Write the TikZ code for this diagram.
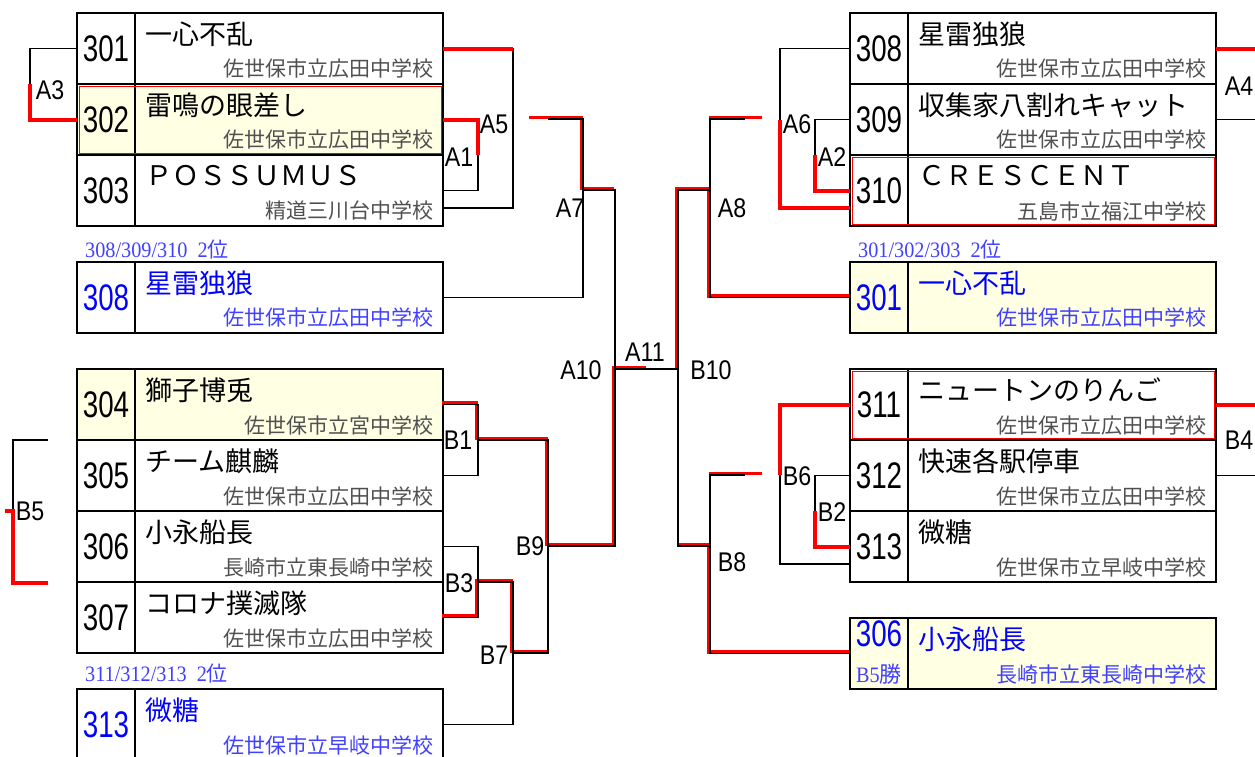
\documentclass[tikz,border=0pt]{standalone}
\usepackage{fontspec}
\setmainfont{Liberation Sans}
\newfontfamily\jpfont{Noto Sans CJK JP}
\newfontfamily\numfont[FakeStretch=0.75]{Liberation Sans}
\newfontfamily\lblfont[FakeStretch=0.86]{Liberation Sans}
\newfontfamily\serfont[FakeStretch=0.92]{Liberation Serif}
\usepackage{tikz}

\definecolor{cream}{RGB}{255,255,228}
\definecolor{schoolgray}{RGB}{80,80,80}
\definecolor{seedblue}{RGB}{0,0,255}
\definecolor{noteblue}{RGB}{64,64,255}

\begin{document}
\begin{tikzpicture}[x=1pt,y=-1pt,
        numcell/.style={draw,line width=2pt,anchor=north west,outer sep=0pt,inner sep=0pt,minimum width=58pt,minimum height=71pt,font=\numfont\fontsize{37}{37}\selectfont},
        namecell/.style={draw,line width=2pt,anchor=north west,outer sep=0pt,inner sep=0pt,minimum width=308pt,minimum height=71pt},
        won/.style={fill=cream},
        seedtext/.style={text=seedblue},
        teamname/.style={anchor=west,inner sep=0pt,font=\jpfont\fontsize{27}{27}\selectfont},
        school/.style={anchor=east,inner sep=0pt,text=schoolgray,font=\jpfont\fontsize{21}{21}\selectfont},
        seednote/.style={anchor=west,inner sep=0pt,text=noteblue,font=\serfont\fontsize{22}{22}\selectfont},
        match/.style={inner sep=0pt,font=\lblfont\fontsize{27}{27}\selectfont},
        bracket/.style={line width=1.6pt},
        win/.style={draw=red,line width=4pt},
        winb/.style={draw=red,line width=3.5pt,transform canvas={shift={(-1.3pt,1.3pt)}}},
        rowmark/.style={draw=red,line width=1pt}]
        \useasboundingbox (0,0) rectangle (1255,756);

        % group A, left
        \node[numcell] (n301) at (77,13) {301};
        \node[namecell] (c301) at (135,13) {};
        \node[teamname] (t301) at ([xshift=10pt,yshift=-21pt]c301.north west) {一心不乱};
        \node[school] (s301) at ([xshift=-9pt,yshift=15pt]c301.south east) {佐世保市立広田中学校};
        \node[numcell,won] (n302) at (77,84) {302};
        \node[namecell,won] (c302) at (135,84) {};
        \node[teamname] (t302) at ([xshift=10pt,yshift=-21pt]c302.north west) {雷鳴の眼差し};
        \node[school] (s302) at ([xshift=-9pt,yshift=15pt]c302.south east) {佐世保市立広田中学校};
        \node[numcell] (n303) at (77,155) {303};
        \node[namecell] (c303) at (135,155) {};
        \node[teamname] (t303) at ([xshift=10pt,yshift=-21pt]c303.north west) {ＰＯＳＳＵＭＵＳ};
        \node[school] (s303) at ([xshift=-9pt,yshift=15pt]c303.south east) {精道三川台中学校};
        \draw[rowmark] ([xshift=2pt,yshift=-2pt]n302.north west) rectangle ([xshift=-2pt,yshift=2pt]c302.south east);

        \node[seednote] (note308) at (85,250) {308/309/310\hspace{10pt}2{\jpfont\fontsize{21}{21}\selectfont 位}};
        \node[numcell,seedtext] (n308s) at (77,262) {308};
        \node[namecell] (c308s) at (135,262) {};
        \node[teamname,seedtext] (t308s) at ([xshift=10pt,yshift=-21pt]c308s.north west) {星雷独狼};
        \node[school,text=noteblue] (s308s) at ([xshift=-9pt,yshift=15pt]c308s.south east) {佐世保市立広田中学校};

        % group B, left
        \node[numcell,won] (n304) at (77,369) {304};
        \node[namecell,won] (c304) at (135,369) {};
        \node[teamname] (t304) at ([xshift=10pt,yshift=-21pt]c304.north west) {獅子博兎};
        \node[school] (s304) at ([xshift=-9pt,yshift=15pt]c304.south east) {佐世保市立宮中学校};
        \node[numcell] (n305) at (77,440) {305};
        \node[namecell] (c305) at (135,440) {};
        \node[teamname] (t305) at ([xshift=10pt,yshift=-21pt]c305.north west) {チーム麒麟};
        \node[school] (s305) at ([xshift=-9pt,yshift=15pt]c305.south east) {佐世保市立広田中学校};
        \node[numcell] (n306) at (77,511) {306};
        \node[namecell] (c306) at (135,511) {};
        \node[teamname] (t306) at ([xshift=10pt,yshift=-21pt]c306.north west) {小永船長};
        \node[school] (s306) at ([xshift=-9pt,yshift=15pt]c306.south east) {長崎市立東長崎中学校};
        \node[numcell] (n307) at (77,582) {307};
        \node[namecell] (c307) at (135,582) {};
        \node[teamname] (t307) at ([xshift=10pt,yshift=-21pt]c307.north west) {コロナ撲滅隊};
        \node[school] (s307) at ([xshift=-9pt,yshift=15pt]c307.south east) {佐世保市立広田中学校};

        \node[seednote] (note313) at (85,674) {311/312/313\hspace{10pt}2{\jpfont\fontsize{21}{21}\selectfont 位}};
        \node[numcell,seedtext] (n313s) at (77,689) {313};
        \node[namecell] (c313s) at (135,689) {};
        \node[teamname,seedtext] (t313s) at ([xshift=10pt,yshift=-21pt]c313s.north west) {微糖};
        \node[school,text=noteblue] (s313s) at ([xshift=-9pt,yshift=15pt]c313s.south east) {佐世保市立早岐中学校};

        % group A, right
        \node[numcell] (n308) at (850,13) {308};
        \node[namecell] (c308) at (908,13) {};
        \node[teamname] (t308) at ([xshift=10pt,yshift=-21pt]c308.north west) {星雷独狼};
        \node[school] (s308) at ([xshift=-9pt,yshift=15pt]c308.south east) {佐世保市立広田中学校};
        \node[numcell] (n309) at (850,84) {309};
        \node[namecell] (c309) at (908,84) {};
        \node[teamname] (t309) at ([xshift=10pt,yshift=-21pt]c309.north west) {収集家八割れキャット};
        \node[school] (s309) at ([xshift=-9pt,yshift=15pt]c309.south east) {佐世保市立広田中学校};
        \node[numcell] (n310) at (850,155) {310};
        \node[namecell] (c310) at (908,155) {};
        \node[teamname] (t310) at ([xshift=10pt,yshift=-21pt]c310.north west) {ＣＲＥＳＣＥＮＴ};
        \node[school] (s310) at ([xshift=-9pt,yshift=15pt]c310.south east) {五島市立福江中学校};
        \draw[rowmark] ([xshift=2pt,yshift=-2pt]n310.north west) rectangle ([xshift=-2pt,yshift=2pt]c310.south east);

        \node[seednote] (note301) at (858,250) {301/302/303\hspace{10pt}2{\jpfont\fontsize{21}{21}\selectfont 位}};
        \node[numcell,won,seedtext] (n301s) at (850,262) {301};
        \node[namecell,won] (c301s) at (908,262) {};
        \node[teamname,seedtext] (t301s) at ([xshift=10pt,yshift=-21pt]c301s.north west) {一心不乱};
        \node[school,text=noteblue] (s301s) at ([xshift=-9pt,yshift=15pt]c301s.south east) {佐世保市立広田中学校};

        % group B, right
        \node[numcell] (n311) at (850,369) {311};
        \node[namecell] (c311) at (908,369) {};
        \node[teamname] (t311) at ([xshift=10pt,yshift=-21pt]c311.north west) {ニュートンのりんご};
        \node[school] (s311) at ([xshift=-9pt,yshift=15pt]c311.south east) {佐世保市立広田中学校};
        \node[numcell] (n312) at (850,440) {312};
        \node[namecell] (c312) at (908,440) {};
        \node[teamname] (t312) at ([xshift=10pt,yshift=-21pt]c312.north west) {快速各駅停車};
        \node[school] (s312) at ([xshift=-9pt,yshift=15pt]c312.south east) {佐世保市立広田中学校};
        \node[numcell] (n313) at (850,511) {313};
        \node[namecell] (c313) at (908,511) {};
        \node[teamname] (t313) at ([xshift=10pt,yshift=-21pt]c313.north west) {微糖};
        \node[school] (s313) at ([xshift=-9pt,yshift=15pt]c313.south east) {佐世保市立早岐中学校};
        \draw[rowmark] ([xshift=2pt,yshift=-2pt]n311.north west) rectangle ([xshift=-2pt,yshift=2pt]c311.south east);

        \node[numcell,won] (n306s) at (850,618) {};
        \node[namecell,won] (c306s) at (908,618) {};
        \node[seedtext,inner sep=0pt,font=\numfont\fontsize{37}{37}\selectfont] (k306s) at ([yshift=20pt]n306s.center) {306};
        \node[text=noteblue,inner sep=0pt,font=\serfont\fontsize{22}{22}\selectfont] (w306s) at ([yshift=-21pt]n306s.center) {B5{\jpfont\fontsize{22}{22}\selectfont 勝}};
        \node[teamname,seedtext] (t306s) at ([xshift=10pt,yshift=-21pt]c306s.north west) {小永船長};
        \node[school,text=noteblue] (s306s) at ([xshift=-9pt,yshift=15pt]c306s.south east) {長崎市立東長崎中学校};

        % match points
        \coordinate (a3) at (30,84);
        \coordinate (a1) at (478,155);
        \coordinate (a5) at (513,128);
        \coordinate (a5out) at (530,119);
        \coordinate (a7top) at (548,119);
        \coordinate (a7) at (583,190);
        \coordinate (a10) at (615,369);
        \coordinate (a11) at (647,369);
        \coordinate (b10) at (678,369);
        \coordinate (a8) at (710,190);
        \coordinate (a8top) at (745,119);
        \coordinate (a6out) at (763,119);
        \coordinate (a6) at (780,120);
        \coordinate (a2) at (815,155);
        \coordinate (a4top) at (1255,48.5);
        \coordinate (a4bot) at (1255,119.5);
        \coordinate (b5top) at (48,440);
        \coordinate (b5bot) at (48,583);
        \coordinate (b5) at (13,511);
        \coordinate (b5out) at (5,511);
        \coordinate (b1) at (478,440);
        \coordinate (b3) at (478,582);
        \coordinate (b7) at (513,653);
        \coordinate (b9) at (548,546);
        \coordinate (b8) at (710,546);
        \coordinate (b8top) at (745,475);
        \coordinate (b6out) at (763,475);
        \coordinate (b6) at (780,475);
        \coordinate (b2) at (815,511);
        \coordinate (b4top) at (1255,404.5);
        \coordinate (b4bot) at (1255,475.5);

        % winners under the black lines
        \draw[winb] (a5out) -| (a7) -- (a7 -| a10);
        \draw[winb] (c304.east) -| (b1) -| (b9) -| (a10) -- (a11);
        \draw[winb] (c307.east) -| (b3) -| (b7) -- (b7 -| b9);
        \draw[winb] (a6out) -- (a6out -| a8);
        \draw[winb] (a8) |- (n301s.west);
        \draw[winb] (a8) -| (b10);
        \draw[winb] (b6out) -- (b6out -| b8);
        \draw[winb] (b8) |- (n306s.west);
        \draw[winb] (b8) -- (b8 -| b10);

        \draw[bracket] (n301.west) -| (a3) |- (n302.west);
        \draw[bracket] (c302.east) -| (a1) |- (c303.east);
        \draw[bracket] (c301.east) -| (a5) |- ([yshift=-17.5pt]c303.east);
        \draw[bracket] (a7top) -| (a7) |- (c308s.east);
        \draw[bracket] (a7) -| (a10) |- (b9);
        \draw[bracket] (a10) -- (b10);
        \draw[bracket] (a8) -| (b10) |- (b8);
        \draw[bracket] (a8top) -| (a8) |- (n301s.west);
        \draw[bracket] (b8top) -| (b8) |- (n306s.west);
        \draw[bracket] (n308.west) -| (a6) |- ([yshift=-17.5pt]n310.west);
        \draw[bracket] (n309.west) -| (a2) |- (n310.west);
        \draw[bracket] (c308.east) -- (a4top);
        \draw[bracket] (c309.east) -- (a4bot);
        \draw[bracket] (b5top) -| (b5) |- (b5bot);
        \draw[bracket] (c304.east) -| (b1) |- (c305.east);
        \draw[bracket] (c306.east) -| (b3) |- (c307.east);
        \draw[bracket] (b1) -| (b9) |- (b7);
        \draw[bracket] (b3) -| (b7) |- (c313s.east);
        \draw[bracket] (n311.west) -| (b6) |- ([yshift=-17.5pt]n313.west);
        \draw[bracket] (n312.west) -| (b2) |- (n313.west);
        \draw[bracket] (c311.east) -- (b4top);
        \draw[bracket] (c312.east) -- (b4bot);

        % winners in red only
        \draw[win] (a3) |- (n302.west);
        \draw[win] (c302.east) -| (a1);
        \draw[win] (c301.east) -- (c301.east -| a5);
        \draw[win] ([yshift=-17.5pt]n310.west) -| (a6);
        \draw[win] (n310.west) -| (a2);
        \draw[win] (c308.east) -- (a4top);
        \draw[win] (c311.east) -- (b4top);
        \draw[win] (n311.west) -| (b6);
        \draw[win] (n313.west) -| (b2);
        \draw[win] (b5out) -- (b5) |- (b5bot);

        % match labels
        \node[match] (la3) at (50,90) {A3};
        \node[match] (la1) at (459,157) {A1};
        \node[match] (la5) at (494,124) {A5};
        \node[match] (la7) at (570,208) {A7};
        \node[match] (la10) at (581,370) {A10};
        \node[match] (la11) at (645,352) {A11};
        \node[match] (lb10) at (711,370) {B10};
        \node[match] (la8) at (732,208) {A8};
        \node[match] (lb8) at (732,562) {B8};
        \node[match] (la6) at (797,124) {A6};
        \node[match] (la2) at (832,157) {A2};
        \node[match] (la4) at (1239,86) {A4};
        \node[match] (lb4) at (1239,440) {B4};
        \node[match] (lb6) at (797,476) {B6};
        \node[match] (lb2) at (832,512) {B2};
        \node[match] (lb1) at (458,440) {B1};
        \node[match] (lb3) at (459,583) {B3};
        \node[match] (lb7) at (494,655) {B7};
        \node[match] (lb9) at (530,546) {B9};
        \node[match] (lb5) at (30,511) {B5};
\end{tikzpicture}
\end{document}
